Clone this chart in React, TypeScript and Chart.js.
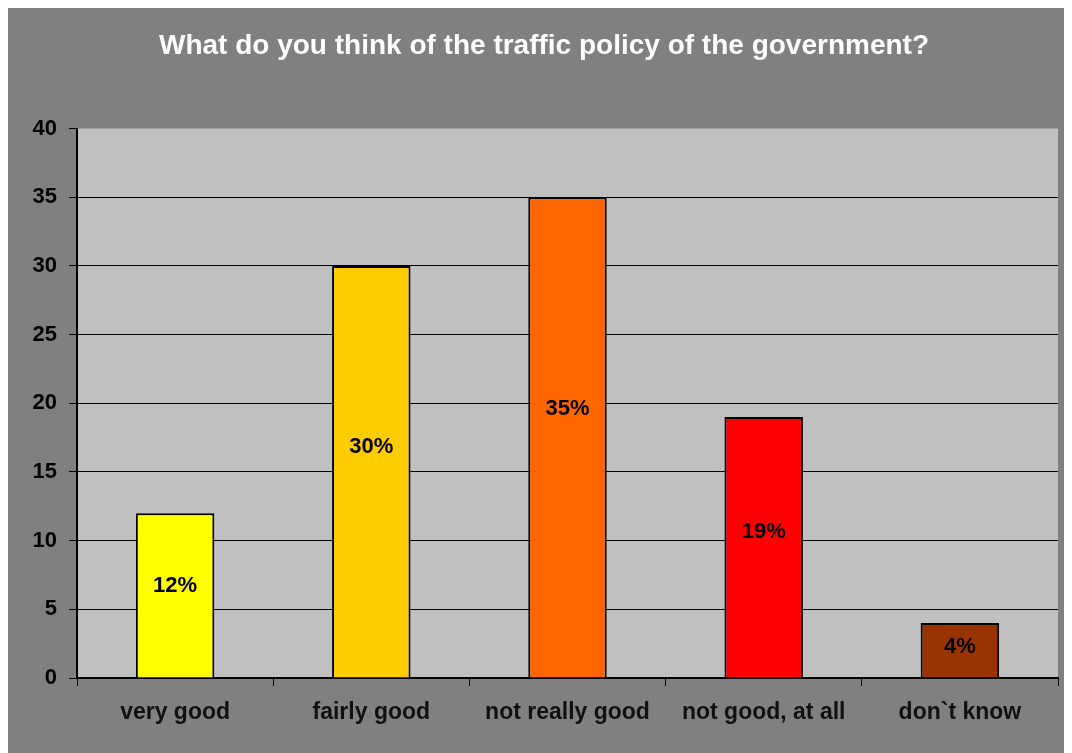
import React, { useEffect, useRef } from "react";
import { Chart, registerables } from "chart.js";

Chart.register(...registerables);

const TITLE = "What do you think of the traffic policy of the government?";
const categories = ["very good", "fairly good", "not really good", "not good, at all", "don`t know"];
const values = [12, 30, 35, 19, 4];
const barColors = ["#FFFF00", "#FFCC00", "#FF6600", "#FF0000", "#993300"];
const yTicks = [0, 5, 10, 15, 20, 25, 30, 35, 40];

const FONT = "'Liberation Sans', Arial, sans-serif";

const bgPlugin = {
  id: "bgPlugin",
  beforeDraw(chart: any) {
    const { ctx, chartArea } = chart;
    ctx.save();
    ctx.fillStyle = "#808080";
    ctx.fillRect(0, 0, chart.width, chart.height);
    ctx.fillStyle = "#C0C0C0";
    ctx.fillRect(chartArea.left, chartArea.top, chartArea.right - chartArea.left, chartArea.bottom - chartArea.top);
    ctx.restore();
  },
};

const labelPlugin = {
  id: "labelPlugin",
  afterDatasetsDraw(chart: any) {
    const { ctx } = chart;
    const meta = chart.getDatasetMeta(0);
    ctx.save();
    ctx.font = `bold 22px ${FONT}`;
    ctx.fillStyle = "#000";
    ctx.textAlign = "center";
    ctx.textBaseline = "middle";
    meta.data.forEach((bar: any, i: number) => {
      const props = bar.getProps(["x", "y", "base"], true);
      const y = props.base - 0.56 * (props.base - props.y);
      ctx.fillText(`${values[i]}%`, props.x, y);
    });
    ctx.restore();
  },
};

export default function App() {
  const ref = useRef<HTMLCanvasElement | null>(null);
  useEffect(() => {
    if (!ref.current) return;
    const chart = new Chart(ref.current, {
      type: "bar",
      data: {
        labels: categories,
        datasets: [
          {
            data: values,
            backgroundColor: barColors,
            borderColor: "#000",
            borderWidth: 2,
            barPercentage: 0.4,
            categoryPercentage: 1,
          },
        ],
      },
      options: {
        animation: false,
        responsive: false,
        devicePixelRatio: 1,
        layout: { padding: { left: 22, right: 14, top: 0, bottom: 0 } },
        plugins: {
          legend: { display: false },
          tooltip: { enabled: false },
          title: {
            display: true,
            text: TITLE,
            color: "#FFFFFF",
            font: { family: FONT, size: 28, weight: "bold" },
            padding: { top: 21, bottom: 66 },
          },
        },
        scales: {
          x: {
            grid: {
              offset: true,
              drawOnChartArea: false,
              drawTicks: true,
              tickLength: 8,
              tickColor: "#000",
              tickWidth: 1,
            },
            border: { color: "#000", width: 2 },
            ticks: {
              color: "#111",
              font: { family: FONT, size: 23, weight: "bold" },
              padding: 13,
              maxRotation: 0,
              autoSkip: false,
            },
            afterFit(scale: any) {
              scale.height = 75;
            },
          },
          y: {
            min: 0,
            max: 40,
            afterBuildTicks(scale: any) {
              scale.ticks = yTicks.map((v) => ({ value: v }));
            },
            grid: {
              color: (c: any) => (c.tick && c.tick.value === 40 ? "rgba(0,0,0,0)" : "#000"),
              lineWidth: 1,
              tickColor: "#000",
              tickLength: 8,
            },
            border: { color: "#000", width: 2 },
            ticks: {
              color: "#000",
              font: { family: FONT, size: 22, weight: "bold" },
              padding: 12,
            },
            afterFit(scale: any) {
              scale.width = 47;
            },
          },
        },
      },
      plugins: [bgPlugin, labelPlugin],
    });
    return () => chart.destroy();
  }, []);
  return (
    <div style={{ width: 1064, height: 745 }}>
      <canvas ref={ref} width={1064} height={745} style={{ display: "block" }} />
    </div>
  );
}
